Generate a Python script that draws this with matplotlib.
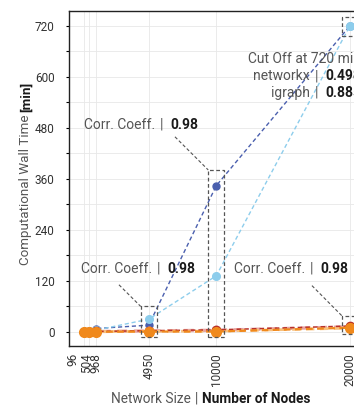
import matplotlib
matplotlib.use("Agg")
import matplotlib.pyplot as plt
import matplotlib.transforms as mtransforms
from matplotlib.patches import Rectangle

plt.rcParams['font.family'] = ['Roboto', 'DejaVu Sans']

# data: wall time in minutes per network size
nodes = [96, 504, 968, 4950, 10000, 20000]
tick_nodes = ['96', '504', '968', '4950', '10000', '20000']
networkx_min = [0.3, 2, 8, 16, 344, 720]
igraph_min = [0.1, 1, 4, 30, 132, 720]
red_min = [0.2, 0.6, 1.2, 3, 5, 14]
pink_min = [0.1, 0.5, 1.0, 2.5, 4, 12]
peach_min = [0.1, 0.4, 0.8, 1.5, 2, 9]
orange_min = [0, 0.2, 0.5, 1, 1, 10]

corr_coeffs = ['0.98', '0.98', '0.98']
cutoff_vals = [('networkx', '0.498'), ('igraph', '0.885')]

TXT = '#333333'
LIGHT = '#555555'
BOLD = '#1a1a1a'
BOX = '#555555'

fig = plt.figure(figsize=(3.54, 4.08), dpi=100)
W, H = 354, 408
ax = fig.add_axes([69.2 / W, 62 / H, 294.1 / W, 335.5 / H])

ax.plot(nodes, networkx_min, ls=(0, (3, 2)), lw=1, color='#4a5fae',
        marker='o', ms=5, zorder=3)
ax.plot(nodes, igraph_min, ls=(0, (3, 2)), lw=1, color='#8dcdec',
        marker='o', ms=5.5, zorder=3)
ax.plot(nodes, pink_min, ls=(0, (3, 2)), lw=2.4, color='#e8a3a0',
        marker='o', ms=6, zorder=4)
ax.plot(nodes, peach_min, ls=(0, (3, 2)), lw=2, color='#f9c17c',
        marker='o', ms=6, zorder=4)
ax.plot(nodes, red_min, ls=(0, (3, 2)), lw=1.1, color='#b8312a',
        marker='o', ms=6, zorder=5)
ax.plot(nodes, orange_min, ls=(0, (3, 2)), lw=1.6, color='#f0891c',
        marker='o', ms=7, zorder=6)

ax.set_xlim(-1000, 21000)
ax.set_ylim(-33, 756)
ax.set_xticks(nodes)
ax.set_xticklabels(tick_nodes, rotation=90, fontsize=8.5, color=TXT)
ax.set_yticks(range(0, 721, 120))
ax.set_yticks(range(60, 721, 120), minor=True)
ax.tick_params(axis='y', labelsize=8.5, labelcolor=TXT, length=2.5, width=0.8,
               pad=8, which='both')
ax.tick_params(axis='x', length=0, pad=5)
ax.grid(True, which='both', color='#e8e8e8', lw=0.6)
ax.set_axisbelow(True)
for s in ['left', 'bottom', 'top']:
    ax.spines[s].set_color('#222222')
    ax.spines[s].set_linewidth(1)

# spread the crowded labels on the left
shifts = [-10.6, -2.7, 0, 0, 0, 0]
for lab, dx in zip(ax.get_xticklabels(), shifts):
    lab.set_transform(lab.get_transform() +
                      mtransforms.ScaledTranslation(dx / 100, 0, fig.dpi_scale_trans))

# dashed boxes around the compared points
boxes = [(4950, -13, 60), (10000, -13, 381), (20000, 697, 740), (20000, -5, 38)]
for xc, ylo, yhi in boxes:
    ax.add_patch(Rectangle((xc - 600, ylo), 1200, yhi - ylo, fill=False,
                           ec=BOX, lw=0.9, ls=(0, (3, 2)), zorder=7))
links = [((6911, 459), (9400, 381)), ((2722, 111), (4350, 60)),
         ((17158, 109), (19400, 38))]
for (x0, y0), (x1, y1) in links:
    ax.plot([x0, x1], [y0, y1], color=BOX, lw=0.8, ls=(0, (3, 2)), zorder=7)

renderer = fig.canvas.get_renderer()
ident = mtransforms.IdentityTransform()


def text_box(s, size, weight, rotation=0):
    t = fig.text(0, 0, s, fontsize=size, fontweight=weight, rotation=rotation)
    bb = t.get_window_extent(renderer)
    t.remove()
    return bb


def parts_text(x, y, parts, size, align='left', gaps=None, rotation=0):
    """place pieces of text with different weights next to each other (pixels)"""
    if gaps is None:
        gaps = [4] * (len(parts) - 1)
    bbs = [text_box(s, size, w, rotation) for s, w, c in parts]
    lens = [b.width if rotation == 0 else b.height for b in bbs]
    total = sum(lens) + sum(gaps)
    if align == 'left':
        start = x if rotation == 0 else y
    elif align == 'center':
        start = (x if rotation == 0 else y) - total / 2
    else:
        start = x - total
    for i, ((s, w, c), L) in enumerate(zip(parts, lens)):
        if rotation == 0:
            fig.text(start, y, s, transform=ident, ha='left', va='center',
                     fontsize=size, fontweight=w, color=c)
        else:
            fig.text(x, start, s, transform=ident, ha='center', va='bottom',
                     fontsize=size, fontweight=w, color=c, rotation=90)
        if i < len(gaps):
            start += L + gaps[i]


corr_pos = [(84, 283), (80.7, 139), (233.7, 139)]
for (px, py), c in zip(corr_pos, corr_coeffs):
    parts_text(px, py, [('Corr. Coeff.', 'normal', LIGHT), ('|', 'normal', LIGHT),
                        (c, 'bold', BOLD)], 10, gaps=[5, 7])

R = 361
parts_text(R, 348.7, [('Cut Off at 720 min', 'normal', LIGHT)], 10, align='right')
for (name, v), py in zip(cutoff_vals, [332, 315.3]):
    parts_text(R, py, [(name, 'normal', LIGHT), ('|', 'normal', LIGHT), (v, 'bold', BOLD)],
               10, align='right', gaps=[5, 7])

parts_text(211, 9, [('Network Size', 'normal', LIGHT), ('|', 'normal', LIGHT),
                    ('Number of Nodes', 'bold', BOLD)], 9.8, align='center', gaps=[4, 4])
parts_text(26, 143, [('Computational Wall Time', 'normal', LIGHT), ('[min]', 'bold', BOLD)],
           9.6, align='left', gaps=[3], rotation=90)

fig.savefig('out.png', dpi=100)
